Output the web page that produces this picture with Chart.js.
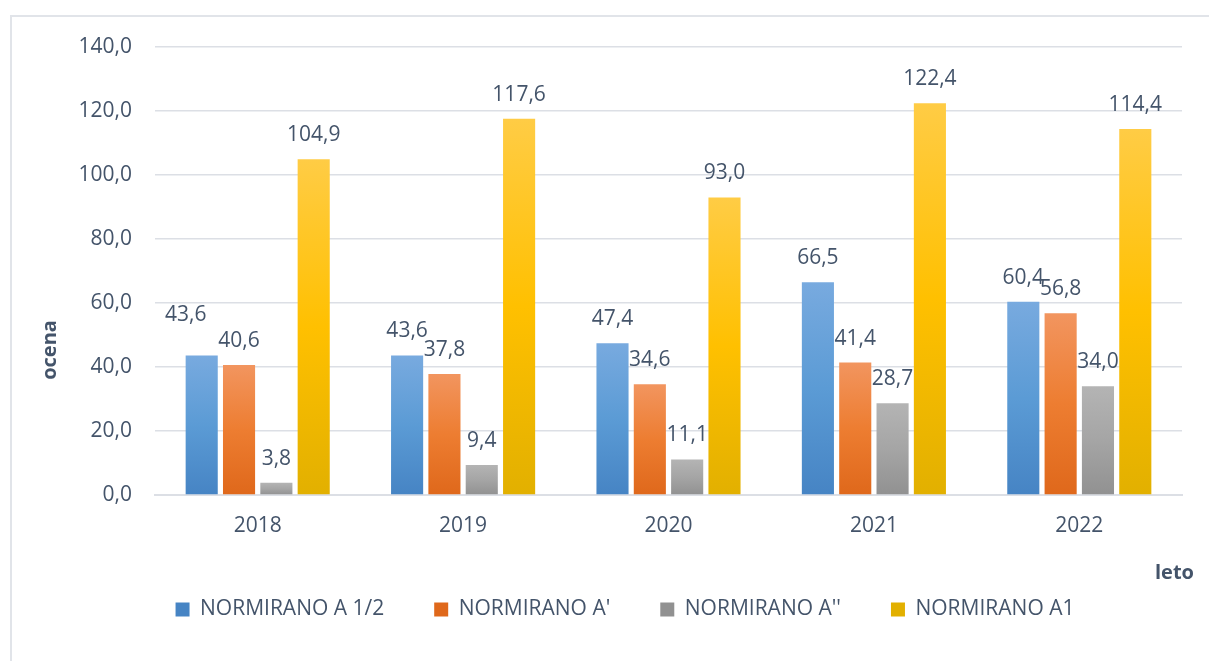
<!DOCTYPE html>
<html>
<head>
<meta charset="utf-8">
<script src="https://cdn.jsdelivr.net/npm/chart.js@4.4.1/dist/chart.umd.min.js"></script>
<style>
  html, body { margin: 0; padding: 0; background: #ffffff; }
  body { width: 1209px; height: 661px; position: relative; overflow: hidden; }
  #frame { position: absolute; left: 10px; top: 15px; width: 1300px; height: 700px; border: 2px solid #e1e4e9; box-sizing: border-box; }
  #c { position: absolute; left: 0; top: 0; }
</style>
</head>
<body>
<div id="frame"></div>
<canvas id="c" width="1209" height="661"></canvas>
<script>
// ---- data ----
const years = ['2018', '2019', '2020', '2021', '2022'];
const seriesNames = ['NORMIRANO A 1/2', "NORMIRANO A'", "NORMIRANO A''", 'NORMIRANO A1'];
const normA12 = [43.6, 43.6, 47.4, 66.5, 60.4];
const normAP = [40.6, 37.8, 34.6, 41.4, 56.8];
const normAPP = [3.8, 9.4, 11.1, 28.7, 34.0];
const normA1 = [104.9, 117.6, 93.0, 122.4, 114.4];
const yTicks = [0, 20, 40, 60, 80, 100, 120, 140];

// ---- styles ----
const TEXT = '#44546a';
const GRID = '#dcdfe5';
const FONT = "'Open Sans', sans-serif";
const palettes = [
  ['#78aadf', '#5b9bd5', '#4684c4'],
  ['#f2955f', '#ed7d31', '#df681b'],
  ['#b4b4b4', '#a5a5a5', '#919191'],
  ['#ffcc45', '#ffc000', '#e2b000']
];
// nudges for labels Excel moved to avoid overlap: "dataset-index": [dx, dy]
const labelNudge = { '0-0': [-16, -16] };

function fmt(v) { return v.toFixed(1).replace('.', ','); }

function gradientFor(i) {
  return function (ctx) {
    const pal = palettes[i];
    const chart = ctx.chart;
    if (ctx.type !== 'data' || !chart.chartArea) return pal[1];
    const y = chart.scales.y;
    const top = y.getPixelForValue(ctx.raw);
    const bot = y.getPixelForValue(0);
    if (!isFinite(top) || Math.abs(bot - top) < 1) return pal[1];
    const g = chart.ctx.createLinearGradient(0, top, 0, bot);
    g.addColorStop(0, pal[0]);
    g.addColorStop(0.5, pal[1]);
    g.addColorStop(1, pal[2]);
    return g;
  };
}

const allSeries = [normA12, normAP, normAPP, normA1];
const datasets = allSeries.map((d, i) => ({
  label: seriesNames[i],
  data: d,
  backgroundColor: gradientFor(i),
  borderWidth: 0,
  categoryPercentage: 0.727,
  barPercentage: 0.86
}));

const valueLabels = {
  id: 'valueLabels',
  afterDatasetsDraw(chart) {
    const ctx = chart.ctx;
    ctx.save();
    ctx.font = '21px ' + FONT;
    ctx.fillStyle = TEXT;
    ctx.textAlign = 'center';
    ctx.textBaseline = 'middle';
    chart.data.datasets.forEach((ds, di) => {
      const meta = chart.getDatasetMeta(di);
      meta.data.forEach((el, idx) => {
        const n = labelNudge[di + '-' + idx] || [0, 0];
        ctx.fillText(fmt(ds.data[idx]), el.x + n[0], el.y - 24 + n[1]);
      });
    });
    ctx.restore();
  }
};

const axisTitles = {
  id: 'axisTitles',
  afterDraw(chart) {
    const ctx = chart.ctx;
    const a = chart.chartArea;
    ctx.save();
    ctx.font = 'bold 20px ' + FONT;
    ctx.fillStyle = TEXT;
    ctx.textBaseline = 'middle';
    ctx.textAlign = 'right';
    ctx.fillText('leto', a.right + 12, a.bottom + 78);
    ctx.translate(a.left - 105, a.bottom - 145);
    ctx.rotate(-Math.PI / 2);
    ctx.textAlign = 'center';
    ctx.fillText('ocena', 0, 0);
    ctx.restore();
  }
};

Chart.defaults.font.family = FONT;
Chart.defaults.color = TEXT;

new Chart(document.getElementById('c'), {
  type: 'bar',
  data: { labels: years, datasets },
  options: {
    responsive: false,
    animation: false,
    devicePixelRatio: 1,
    layout: { padding: { left: 41, right: 0, top: 47, bottom: 31 } },
    plugins: {
      tooltip: { enabled: false },
      legend: {
        position: 'bottom',
        labels: {
          boxWidth: 14,
          boxHeight: 14,
          padding: 50,
          color: TEXT,
          font: { size: 21, family: FONT }
        }
      }
    },
    scales: {
      x: {
        grid: { display: false, drawTicks: false },
        border: { display: true, color: GRID, width: 2 },
        ticks: { color: TEXT, font: { size: 21 }, padding: 18 },
        afterFit(s) { s.height = 54; }
      },
      y: {
        min: 0,
        max: 140,
        afterBuildTicks(s) { s.ticks = yTicks.map(v => ({ value: v })); },
        grid: { color: GRID, lineWidth: 1.5, drawTicks: false },
        border: { display: false },
        ticks: { color: TEXT, font: { size: 21 }, padding: 23, callback: v => fmt(v) },
        afterFit(s) { s.width = 114; }
      },
      yr: {
        position: 'right',
        display: true,
        grid: { display: false, drawTicks: false },
        border: { display: false },
        ticks: { display: false },
        afterFit(s) { s.width = 27; }
      }
    }
  },
  plugins: [valueLabels, axisTitles]
});
</script>
</body>
</html>
